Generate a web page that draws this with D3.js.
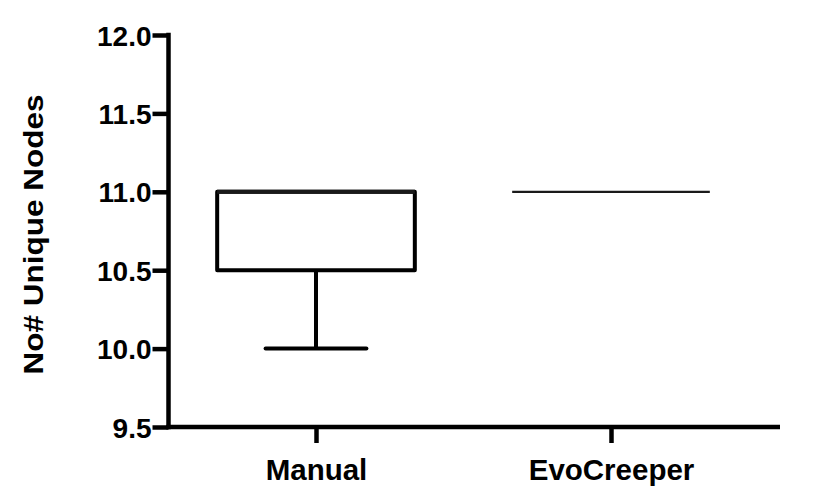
<!DOCTYPE html>
<html><head><meta charset="utf-8">
<script src="https://cdn.jsdelivr.net/npm/d3@7"></script>
<style>body{margin:0;background:#fff}svg{display:block}text{font-family:"Liberation Sans",Arial,sans-serif;font-weight:bold;fill:#000}</style>
</head><body>
<svg id="c" width="830" height="488"></svg>
<script>
const categories = ["Manual", "EvoCreeper"];
const minVals    = [10.0, 11.0];
const q1Vals     = [10.5, 11.0];
const medianVals = [11.0, 11.0];
const q3Vals     = [11.0, 11.0];
const maxVals    = [11.0, 11.0];
const yTicks = [9.5, 10.0, 10.5, 11.0, 11.5, 12.0];
const yTitle = "No# Unique Nodes";

const svg = d3.select("#c");
const axisLeftX = 168.5, axisBottomY = 427, axisRightEnd = 780;
const y = d3.scaleLinear().domain([9.5, 12.0]).range([427, 35]);
const x = d3.scalePoint().domain(categories).range([316, 611]);
const step = x(categories[1]) - x(categories[0]);
const boxW = step * 0.67, capW = boxW * 0.51;

const data = categories.map((c, i) => ({c, min: minVals[i], q1: q1Vals[i], med: medianVals[i], q3: q3Vals[i], max: maxVals[i]}));

const g = svg.append("g");
data.forEach(d => {
  const cx = x(d.c);
  if (d.q1 > d.min) {
    g.append("line").attr("x1", cx).attr("x2", cx).attr("y1", y(d.q1)).attr("y2", y(d.min)).attr("stroke", "#000").attr("stroke-width", 4);
    g.append("line").attr("x1", cx - capW/2).attr("x2", cx + capW/2).attr("y1", y(d.min)).attr("y2", y(d.min)).attr("stroke", "#000").attr("stroke-width", 4).attr("stroke-linecap", "round");
  }
  if (d.max > d.q3) {
    g.append("line").attr("x1", cx).attr("x2", cx).attr("y1", y(d.q3)).attr("y2", y(d.max)).attr("stroke", "#000").attr("stroke-width", 4);
    g.append("line").attr("x1", cx - capW/2).attr("x2", cx + capW/2).attr("y1", y(d.max)).attr("y2", y(d.max)).attr("stroke", "#000").attr("stroke-width", 4).attr("stroke-linecap", "round");
  }
  if (d.q3 > d.q1) {
    g.append("rect").attr("x", cx - boxW/2).attr("width", boxW).attr("y", y(d.q3)).attr("height", y(d.q1) - y(d.q3))
      .attr("fill", "#fff").attr("stroke", "#000").attr("stroke-width", 4).attr("stroke-linejoin", "round");
  }
  g.append("line").attr("x1", cx - boxW/2).attr("x2", cx + boxW/2).attr("y1", y(d.med)).attr("y2", y(d.med))
    .attr("stroke", "#1a1a1a").attr("stroke-width", d.q3 > d.q1 ? 4 : 2.2);
});

// Y axis
const ya = svg.append("g").attr("transform", `translate(${axisLeftX},0)`)
  .call(d3.axisLeft(y).tickValues(yTicks).tickFormat(d3.format(".1f")).tickSize(16).tickPadding(2));
ya.select(".domain").remove();
ya.selectAll(".tick line").attr("stroke", "#000").attr("stroke-width", 4.5);
ya.selectAll(".tick text").attr("font-size", 28).attr("dy", "0.36em").attr("dx", "1");
svg.append("line").attr("x1", axisLeftX).attr("x2", axisLeftX).attr("y1", y(12.0) - 2.25).attr("y2", axisBottomY + 2.25).attr("stroke", "#000").attr("stroke-width", 4.5);

// X axis
const xa = svg.append("g").attr("transform", `translate(0,${axisBottomY})`)
  .call(d3.axisBottom(x).tickSize(16).tickPadding(10));
xa.select(".domain").remove();
xa.selectAll(".tick line").attr("stroke", "#000").attr("stroke-width", 4.5);
xa.selectAll(".tick text").attr("font-size", 29.5).attr("dy", "0.9em");
svg.append("line").attr("x1", axisLeftX - 2.25).attr("x2", axisRightEnd).attr("y1", axisBottomY).attr("y2", axisBottomY).attr("stroke", "#000").attr("stroke-width", 4.5);

// Y title
svg.append("text").attr("transform", `translate(43,234.5) rotate(-90)`).attr("text-anchor", "middle")
  .attr("font-size", 27).attr("textLength", 280).attr("lengthAdjust", "spacingAndGlyphs").text(yTitle);
</script>
</body></html>
